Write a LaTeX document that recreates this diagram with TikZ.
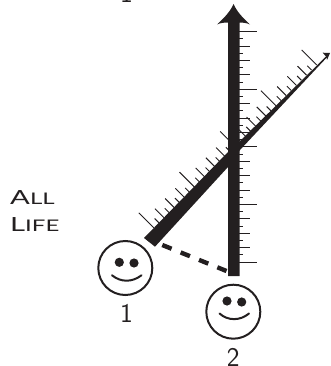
\documentclass[tikz,border=0pt]{standalone}
\usepackage{fontspec}
\newfontfamily\lifefont{Lato}
\definecolor{ink}{HTML}{231F20}
\tikzset{
  face/.style={circle,draw=ink,line width=2pt,minimum size=54pt,inner sep=0pt},
  eye/.style={fill=ink},
  mouth/.style={draw=ink,line width=2pt,line cap=round},
  tickline/.style={draw=ink,line width=0.95pt},
  numlabel/.style={anchor=base,text=ink,font=\sffamily\fontsize{27}{27}\selectfont,inner sep=0pt},
  lifelabel/.style={anchor=base west,text=ink,font=\lifefont,inner sep=0pt},
}
\newcommand{\capsword}[3]{\scalebox{#3}[1]{{\fontsize{19.5}{20}\selectfont #1}{\fontsize{16}{16}\selectfont #2}}}
\begin{document}
\begin{tikzpicture}[x=1pt,y=-1pt]
\useasboundingbox (0,0) rectangle (331,366);
% vertical ruler ticks
\foreach \k in {0,...,32}{
  \pgfmathsetmacro{\yy}{31.7+7.2*\k}
  \pgfmathsetmacro{\len}{ifthenelse(mod(\k,8)==0,18,ifthenelse(mod(\k,2)==0,11,4))}
  \draw[tickline] (239,\yy) -- ++(\len,0);
}
% diagonal ruler ticks
\foreach \k in {0,...,32}{
  \pgfmathsetmacro{\px}{316.7-5.09*\k}
  \pgfmathsetmacro{\py}{65+5.09*\k}
  \pgfmathsetmacro{\len}{ifthenelse(mod(\k,8)==0,15,ifthenelse(mod(\k,2)==0,9,4.3))}
  \draw[tickline] (\px,\py) -- ++(-\len,-\len);
}
% diagonal axis, tapered
\fill[ink] (144,238) -- (228,152) -- (240,141) -- (326,56.5) -- (322.7,52.7) -- (330,53) -- (327,60) -- (326.8,57.5) -- (240,150) -- (228,167) -- (155,246.7) -- cycle;
% vertical axis
\fill[ink] (228,276) -- (228,22.5) .. controls (224,22.5) and (220,23) .. (217,24.5)
  .. controls (224,18) and (230,12) .. (233.6,4)
  .. controls (237,12) and (243,18) .. (250,24.5)
  .. controls (247,23) and (243,22.5) .. (239.7,22.5) -- (239.7,276) -- cycle;
% dashed link
\coordinate (d1) at (162.3,245);
\coordinate (d2) at (226.5,271);
\draw[ink,line width=4.4pt,dash pattern=on 10pt off 9.8pt] (d1) -- (d2);
% smileys
\node[face] (s1) at (125.3,268) {};
\fill[eye] (119.3,262.3) circle (4.6);
\fill[eye] (134,263) circle (4.6);
\draw[mouth] (112,275.3) .. controls (121,282.5) and (132,282.5) .. (141.5,275.3);
\node[face] (s2) at (233.3,311.7) {};
\fill[eye] (227,301) circle (4.6);
\fill[eye] (241.7,302) circle (4.6);
\draw[mouth] (219.5,313.5) .. controls (228,321) and (240,321) .. (249,313.5);
% labels
\node[numlabel] (t1) at (126.5,322.7) {1};
\node[numlabel] (t2) at (233.3,366) {2};
\node[numlabel] (t0) at (126.5,3) {1};
\node[lifelabel] (all) at (10,204) {\capsword{A}{LL}{1.5}};
\node[lifelabel] (life) at (10,231) {\capsword{L}{IFE}{1.5}};
\end{tikzpicture}
\end{document}
